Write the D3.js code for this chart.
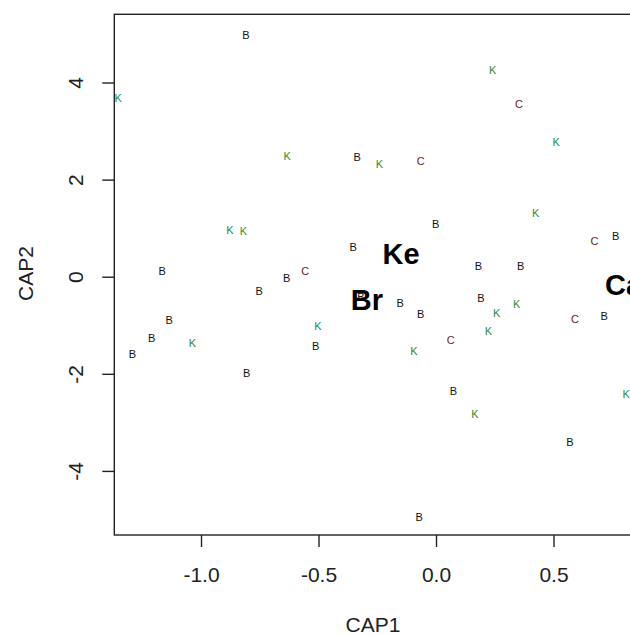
<!DOCTYPE html>
<html>
<head>
<meta charset="utf-8">
<script src="https://cdn.jsdelivr.net/npm/d3@7"></script>
<style>
  html, body { margin: 0; padding: 0; background: #fff; }
  svg { display: block; font-family: "Liberation Sans", Arial, sans-serif; }
</style>
</head>
<body>
<svg id="chart" width="630" height="635"></svg>
<script>
// ---- Data ----
const groupB_x = [-0.809, -0.336, -0.353, -1.165, -0.635, -0.752, -1.136, -1.210, -1.292, -0.512, -0.806, -0.319, -0.001, 0.180, 0.360, 0.765, -0.153, -0.065, 0.191, 0.074, 0.570, -0.072, 0.716];
const groupB_y = [4.98, 2.47, 0.61, 0.12, -0.03, -0.29, -0.89, -1.26, -1.59, -1.43, -1.98, -0.42, 1.09, 0.23, 0.23, 0.84, -0.55, -0.77, -0.44, -2.35, -3.40, -4.94, -0.80];

const groupK_x = [0.258, 0.343, 0.223, -0.094, 0.166, 0.809, 0.241, 0.511, -0.241, 0.424, -1.352, -0.633, -0.877, -0.820, -1.037, -0.503];
const groupK_y = [-0.75, -0.56, -1.12, -1.53, -2.83, -2.42, 4.26, 2.78, 2.32, 1.31, 3.67, 2.49, 0.96, 0.94, -1.37, -1.02];

const groupC_x = [0.674, 0.063, 0.591, 0.353, -0.065, -0.557];
const groupC_y = [0.74, -1.30, -0.87, 3.56, 2.39, 0.12];

const centroidLabels = ["Ke", "Br", "Ca"];
const centroid_x = [-0.149, -0.294, 0.798];
const centroid_y = [0.48, -0.48, -0.17];

const xTicks = [-1.0, -0.5, 0.0, 0.5];
const xTickLabels = ["-1.0", "-0.5", "0.0", "0.5"];
const yTicks = [-4, -2, 0, 2, 4];
const yTickLabels = ["-4", "-2", "0", "2", "4"];
const xTitle = "CAP1";
const yTitle = "CAP2";

// ---- Layout ----
(function () {
const svg = d3.select("#chart");
const mLeft = 114.3, mTop = 14.3, mBottom = 535, mRight = 630;

const x = d3.scaleLinear().domain([-1.369, 0.8255]).range([mLeft, mRight]);
const y = d3.scaleLinear().domain([-5.320, 5.405]).range([mBottom, mTop]);

const fontSize = 21;

// Box (right side runs off the page as in the reference)
svg.append("rect")
  .attr("x", mLeft).attr("y", mTop)
  .attr("width", 700 - mLeft).attr("height", mBottom - mTop)
  .attr("fill", "none").attr("stroke", "#222").attr("stroke-width", 1.4);

// X axis
const gx = svg.append("g").attr("transform", `translate(0,${mBottom})`)
  .call(d3.axisBottom(x).tickValues(xTicks)
    .tickFormat((d, i) => xTickLabels[i]).tickSize(12).tickSizeOuter(0));
gx.select(".domain").remove();
gx.selectAll(".tick line").attr("stroke", "#222").attr("stroke-width", 1.4);
gx.selectAll(".tick text")
  .attr("y", 47).attr("dy", null)
  .attr("font-size", fontSize).attr("fill", "#222")
  .attr("font-family", "Liberation Sans, Arial, sans-serif");

// Y axis
const gy = svg.append("g").attr("transform", `translate(${mLeft},0)`)
  .call(d3.axisLeft(y).tickValues(yTicks)
    .tickFormat((d, i) => yTickLabels[i]).tickSize(12).tickSizeOuter(0));
gy.select(".domain").remove();
gy.selectAll(".tick line").attr("stroke", "#222").attr("stroke-width", 1.4);
gy.selectAll(".tick text")
  .attr("x", null).attr("dy", null)
  .attr("text-anchor", "middle")
  .attr("transform", `translate(${83 - mLeft},0) rotate(-90)`)
  .attr("font-size", fontSize).attr("fill", "#222")
  .attr("font-family", "Liberation Sans, Arial, sans-serif");

// Axis titles
svg.append("text").attr("x", 373).attr("y", 632)
  .attr("text-anchor", "middle").attr("font-size", fontSize).attr("fill", "#222")
  .text(xTitle);
svg.append("text").attr("transform", `translate(33,273.5) rotate(-90)`)
  .attr("text-anchor", "middle").attr("font-size", fontSize).attr("fill", "#222")
  .text(yTitle);

// Points
const pts = svg.append("g").attr("font-size", 11).attr("text-anchor", "middle");
function drawGroup(xs, ys, label, color) {
  pts.selectAll(null)
    .data(xs.map((v, i) => [v, ys[i]]))
    .join("text")
    .attr("x", d => x(d[0]))
    .attr("y", d => y(d[1]))
    .attr("dy", "0.36em")
    .attr("fill", color)
    .text(label);
}
drawGroup(groupB_x, groupB_y, "B", "#111");
drawGroup(groupK_x, groupK_y, "K", "#2e8b3a");
drawGroup(groupC_x, groupC_y, "C", "#6e1a1a");

// Centroid labels
svg.append("g").attr("font-size", 29).attr("font-weight", "bold").attr("text-anchor", "middle")
  .selectAll("text")
  .data(centroidLabels.map((l, i) => ({l, cx: centroid_x[i], cy: centroid_y[i]})))
  .join("text")
  .attr("x", d => x(d.cx))
  .attr("y", d => y(d.cy))
  .attr("dy", "0.36em")
  .attr("fill", "#000")
  .text(d => d.l);
})();
</script>
</body>
</html>
